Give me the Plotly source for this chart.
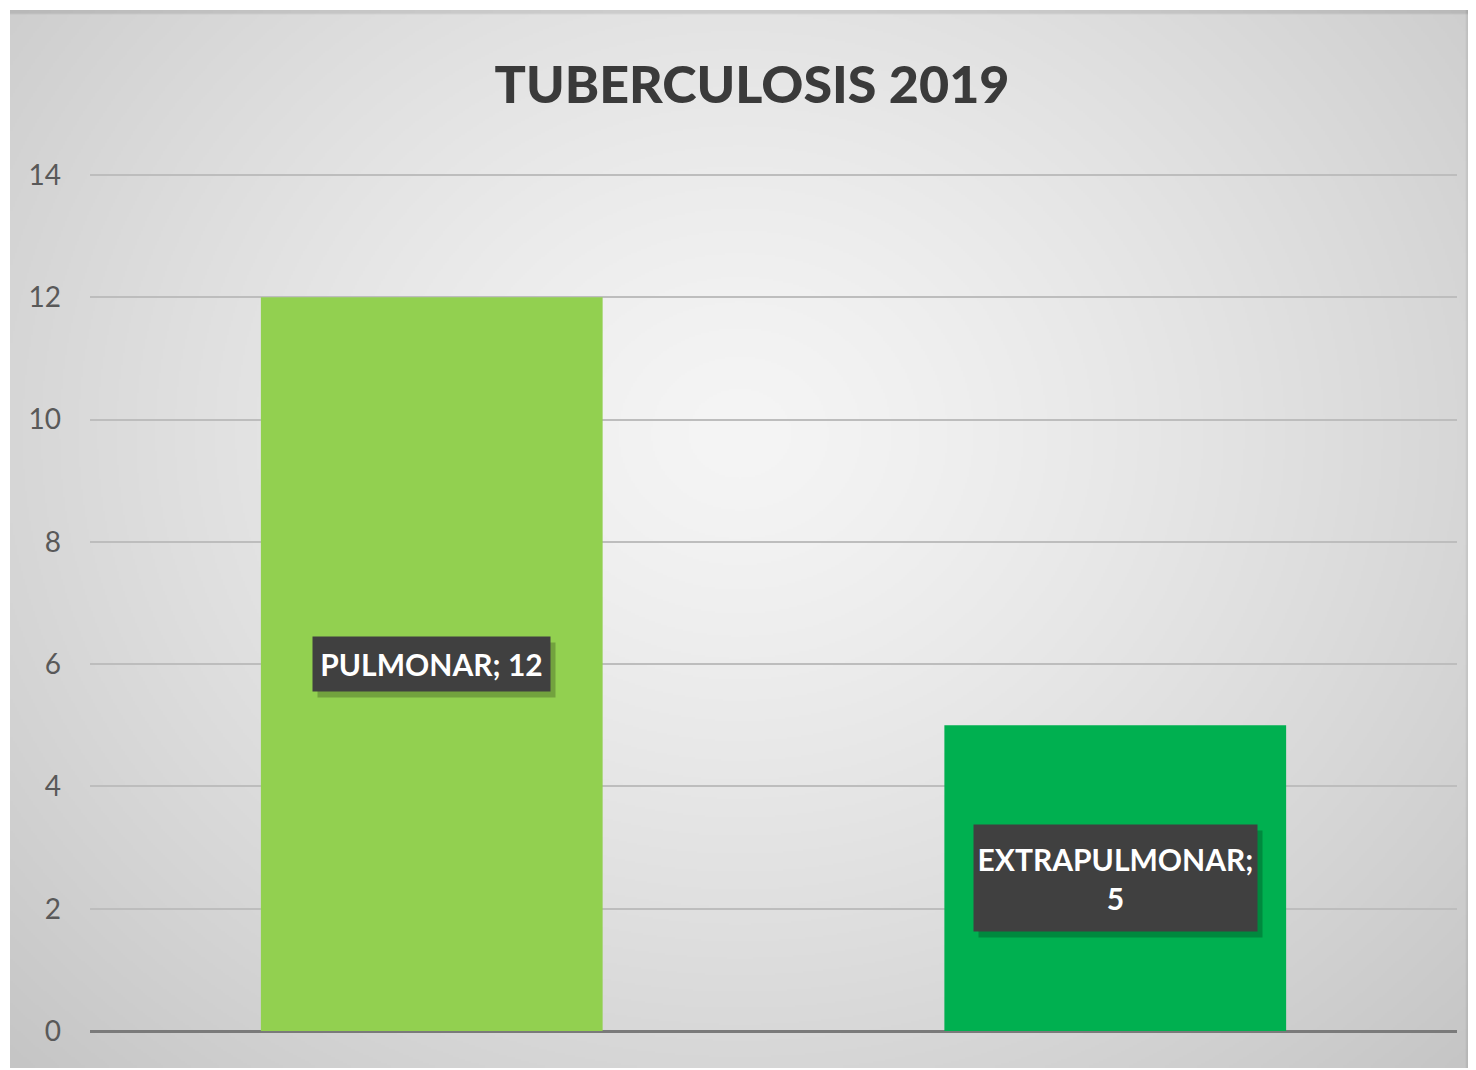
import base64, struct, zlib
import numpy as np
import plotly.graph_objects as go

# ---- data ----
categories = ["PULMONAR", "EXTRAPULMONAR"]
values = [12, 5]
bar_colors = ["#92D050", "#00B050"]
label_texts = ["PULMONAR; 12", "EXTRAPULMONAR;<br>5"]
y_ticks = [0, 2, 4, 6, 8, 10, 12, 14]
title_text = "TUBERCULOSIS 2019"

# page has an 8px body offset; figure coords = screen coords - 8
OFF = 8
W, H = 1476, 1070
Y_MAX = 14.05
px_per_unit = (1031 - 175) / 14
L = 90 - OFF
T = int(round(175 - OFF - (Y_MAX - 14) * px_per_unit))
B = H - (1031 - OFF)
R = W - (1457 - OFF)


# ---- radial-gradient background image (decoration) ----
def make_png(arr):
    h, w = arr.shape
    raw = b"".join(b"\x00" + bytes(row) for row in arr.astype(np.uint8))
    def chunk(tag, data):
        c = struct.pack(">I", len(data)) + tag + data
        return c + struct.pack(">I", zlib.crc32(tag + data) & 0xffffffff)
    png = b"\x89PNG\r\n\x1a\n"
    png += chunk(b"IHDR", struct.pack(">IIBBBBB", w, h, 8, 0, 0, 0, 0))
    png += chunk(b"IDAT", zlib.compress(raw, 9))
    png += chunk(b"IEND", b"")
    return "data:image/png;base64," + base64.b64encode(png).decode()

gw, gh = 730, 529
xx, yy = np.meshgrid(np.linspace(0, 1, gw), np.linspace(0, 1, gh))
d = np.sqrt(((xx - 0.5) / 0.5) ** 2 + ((yy - 0.40) / 0.60) ** 2) / np.sqrt(2)
d = np.clip(d, 0, 1)
grad = 245 - 48 * d ** 1.3
grad[:2, :] -= 22
grad[:, -2:] -= 15
grad = np.clip(grad, 0, 255)
bg_src = make_png(grad)

pw, ph = W - L - R, H - T - B
img_x0 = ((10 - OFF) - L) / pw
img_w = (1470 - 10) / pw
img_y0 = (H - B - (10 - OFF)) / ph
img_h = (1068 - 10) / ph

fig = go.Figure()
fig.add_trace(go.Bar(
    x=categories, y=values,
    marker=dict(color=bar_colors, line=dict(width=0)),
    hoverinfo="x+y",
))

FONT = "Lato, Roboto, sans-serif"
label_font = dict(family=FONT, size=30, color="#FFFFFF", weight="bold")
box_sizes = [(237, 54), (283, 106)]  # label box size in px (style, not data)
annotations = []
for cat, v, txt, (bw, bh) in zip(categories, values, label_texts, box_sizes):
    # shadow box
    annotations.append(dict(
        x=cat, y=v / 2, xref="x", yref="y", text=" ",
        showarrow=False, width=bw, height=bh, borderpad=0,
        bgcolor="rgba(0,0,0,0.22)", xshift=5, yshift=-6,
    ))
    annotations.append(dict(
        x=cat, y=v / 2, xref="x", yref="y", text=txt,
        showarrow=False, font=label_font, width=bw, height=bh, borderpad=0,
        bgcolor="#404040", align="center", valign="middle",
    ))

fig.update_layout(
    width=W, height=H,
    margin=dict(l=L, r=R, t=T, b=B),
    paper_bgcolor="#FFFFFF",
    plot_bgcolor="rgba(0,0,0,0)",
    bargap=0.5,
    showlegend=False,
    title=dict(
        text=title_text,
        x=(752 - OFF) / W, xref="container", xanchor="center",
        y=1 - (85 - OFF) / H, yref="container", yanchor="middle",
        font=dict(family=FONT, size=52, color="#3A3A3A", weight=900),
    ),
    xaxis=dict(showticklabels=False, showgrid=False, zeroline=False,
               showline=False, ticks=""),
    yaxis=dict(range=[0, Y_MAX], tickvals=y_ticks, showgrid=True,
               gridcolor="#BDBDBD", gridwidth=2,
               zeroline=True, zerolinecolor="#7A7A7A", zerolinewidth=3,
               showline=False, ticks="", ticklabelstandoff=28,
               tickfont=dict(family=FONT, size=28, color="#595959")),
    images=[dict(source=bg_src, xref="paper", yref="paper",
                 x=img_x0, y=img_y0, sizex=img_w, sizey=img_h,
                 xanchor="left", yanchor="top", sizing="stretch",
                 layer="below")],
    annotations=annotations,
)

fig.write_html("out.html")
